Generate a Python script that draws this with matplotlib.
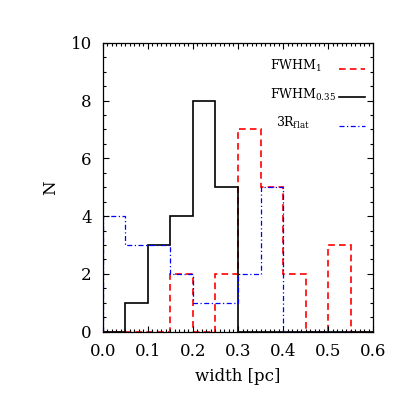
import numpy as np
import matplotlib
matplotlib.use("Agg")
import matplotlib.pyplot as plt
from matplotlib.ticker import MultipleLocator, FormatStrFormatter

# bin edges (width 0.05 pc)
edges = np.round(np.arange(0.0, 0.6001, 0.05), 2)

# counts per bin
fwhm_1 = [0, 0, 0, 2, 0, 2, 7, 5, 2, 0, 3, 0]
fwhm_035 = [0, 1, 3, 4, 8, 5, 0, 0, 0, 0, 0, 0]
r_flat = [4, 3, 3, 2, 1, 1, 2, 5, 0, 0, 0, 0]

labels = ['FWHM$_{1}$', 'FWHM$_{0.35}$', '3R$_{flat}$']
colors = ['red', 'black', 'blue']
styles = [(0, (4, 2.5)), '-', (0, (4, 2, 1, 2))]
widths = [1.2, 1.2, 0.9]

plt.rcParams['font.family'] = ['DejaVu Serif']
plt.rcParams['mathtext.fontset'] = 'dejavuserif'
plt.rcParams['mathtext.default'] = 'regular'

fig = plt.figure(figsize=(4.15, 4.15), dpi=100)
ax = fig.add_axes([0.248, 0.2007, 0.651, 0.6963])

for counts, c, ls, lw in zip([fwhm_1, fwhm_035, r_flat], colors, styles, widths):
    ax.stairs(counts, edges, baseline=0, color=c, linestyle=ls, linewidth=lw)

ax.set_xlim(0, 0.6)
ax.set_ylim(0, 10)
ax.xaxis.set_major_locator(MultipleLocator(0.1))
ax.xaxis.set_minor_locator(MultipleLocator(0.01))
ax.xaxis.set_major_formatter(FormatStrFormatter('%.1f'))
ax.yaxis.set_major_locator(MultipleLocator(2))
ax.yaxis.set_minor_locator(MultipleLocator(0.5))
ax.tick_params(which='both', direction='in', top=True, right=True,
               labelsize=12, width=0.8)
ax.tick_params(which='major', length=4.5, pad=8)
ax.tick_params(which='minor', length=2)
for s in ax.spines.values():
    s.set_linewidth(0.9)

ax.set_xlabel('width [pc]', fontsize=12, labelpad=6)
ax.set_ylabel('N', fontsize=12, labelpad=8)

# legend drawn by hand: text on the left, line sample on the right
text_x = [0.617, 0.617, 0.642]
row_y = [0.905, 0.807, 0.709]
for lab, c, ls, lw, tx, ty in zip(labels, colors, styles, widths, text_x, row_y):
    ax.text(tx, ty, lab, transform=ax.transAxes, fontsize=9, va='baseline', ha='left')
    ax.plot([0.872, 0.969], [ty + 0.004, ty + 0.004], transform=ax.transAxes,
            color=c, linestyle=ls, linewidth=lw)

fig.savefig('out.png', dpi=100)
